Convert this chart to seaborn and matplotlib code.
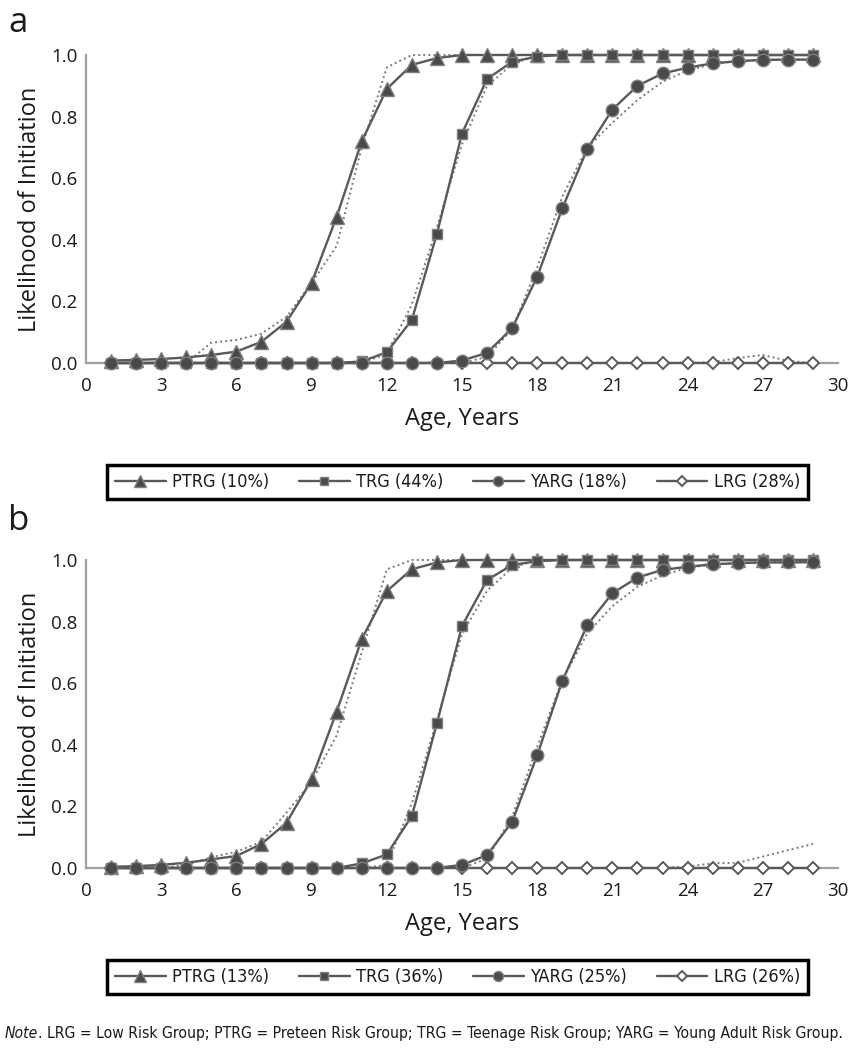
import matplotlib
matplotlib.use("Agg")
import matplotlib.pyplot as plt
from matplotlib.font_manager import FontProperties
import seaborn as sns
import numpy as np

# ---------------- data ----------------
ages = list(range(1, 30))

# Panel a (modeled, solid)
ptrg_a = [0.008, 0.010, 0.013, 0.018, 0.026, 0.037, 0.069, 0.134, 0.26, 0.475, 0.72, 0.89, 0.968, 0.99] + [1.0] * 15
trg_a = [0.0] * 10 + [0.005, 0.035, 0.14, 0.42, 0.745, 0.922, 0.978, 0.995] + [1.0] * 11
yarg_a = [0.0] * 14 + [0.008, 0.033, 0.113, 0.28, 0.502, 0.695, 0.823, 0.90, 0.94, 0.959, 0.973, 0.98, 0.984, 0.985, 0.985]
lrg_a = [0.0] * 29
# Panel a (observed, dotted)
ptrg_a_obs = [0.0, 0.0, 0.0, 0.0, 0.066, 0.075, 0.095, 0.15, 0.26, 0.38, 0.70, 0.96] + [1.0] * 17
trg_a_obs = [0.0] * 11 + [0.03, 0.19, 0.44, 0.71, 0.90, 0.97] + [1.0] * 12
yarg_a_obs = [0.0] * 15 + [0.02, 0.11, 0.31, 0.54, 0.70, 0.78, 0.854, 0.913, 0.95, 0.97, 0.98, 0.985, 0.985, 0.985]
lrg_a_obs = [0.0] * 24 + [0.003, 0.016, 0.026, 0.007, 0.0]

# Panel b (modeled, solid)
ptrg_b = [0.004, 0.006, 0.010, 0.017, 0.028, 0.039, 0.078, 0.147, 0.288, 0.508, 0.743, 0.899, 0.97, 0.992] + [1.0] * 15
trg_b = [0.0] * 10 + [0.015, 0.044, 0.169, 0.47, 0.786, 0.935, 0.984, 0.996] + [1.0] * 11
yarg_b = [0.0] * 14 + [0.01, 0.042, 0.15, 0.366, 0.607, 0.789, 0.892, 0.943, 0.968, 0.978, 0.986, 0.99, 0.992, 0.992, 0.993]
lrg_b = [0.0] * 29
# Panel b (observed, dotted)
ptrg_b_obs = [0.0, 0.0, 0.0, 0.01, 0.035, 0.053, 0.085, 0.18, 0.28, 0.43, 0.70, 0.97] + [1.0] * 17
trg_b_obs = [0.0] * 11 + [0.01, 0.21, 0.48, 0.76, 0.90, 0.975] + [1.0] * 12
yarg_b_obs = [0.0] * 15 + [0.03, 0.167, 0.394, 0.61, 0.762, 0.85, 0.913, 0.95, 0.975, 0.985, 0.99, 0.993, 0.993, 0.993]
lrg_b_obs = [0.0] * 23 + [0.005, 0.015, 0.017, 0.037, 0.058, 0.078]

labels_a = ["PTRG (10%)", "TRG (44%)", "YARG (18%)", "LRG (28%)"]
labels_b = ["PTRG (13%)", "TRG (36%)", "YARG (25%)", "LRG (26%)"]
panel_letters = ["a", "b"]
x_ticks = [0, 3, 6, 9, 12, 15, 18, 21, 24, 27, 30]
y_ticks = [0.0, 0.2, 0.4, 0.6, 0.8, 1.0]
x_label = "Age, Years"
y_label = "Likelihood of Initiation"
note_text = "LRG = Low Risk Group; PTRG = Preteen Risk Group; TRG = Teenage Risk Group; YARG = Young Adult Risk Group."

# ---------------- style ----------------
sns.set_style("white")
plt.rcParams["font.family"] = ["Open Sans", "DejaVu Sans"]

def narrow(size, style="normal"):
    return FontProperties(family="DejaVu Sans", stretch="condensed", size=size, style=style)

LINE = "#595959"
FILL = "#4a4a4a"
EDGE = "#7f7f7f"
DOT = "#7a7a7a"

fig = plt.figure(figsize=(8.48, 10.5), dpi=100)
W, H = 848, 1050

def axes_px(left, top, right, bottom):
    return fig.add_axes([left / W, 1 - bottom / H, (right - left) / W, (bottom - top) / H])

ax_a = axes_px(86, 55, 838, 363)
ax_b = axes_px(86, 560, 838, 868)

series_style = [
    dict(marker="^", markersize=10, markerfacecolor=FILL, markeredgecolor=EDGE, markeredgewidth=1.0),
    dict(marker="s", markersize=6.5, markerfacecolor=FILL, markeredgecolor=EDGE, markeredgewidth=1.0),
    dict(marker="o", markersize=9, markerfacecolor=FILL, markeredgecolor=EDGE, markeredgewidth=1.0),
    dict(marker="D", markersize=6.5, markerfacecolor="white", markeredgecolor=LINE, markeredgewidth=1.4),
]

def draw_panel(ax, model, obs, labels, legend_top):
    for vals in obs:
        sns.lineplot(x=ages, y=vals, ax=ax, color=DOT, linestyle=(0, (1, 1.6)), linewidth=1.4,
                     legend=False, label="_nolegend_", clip_on=False, zorder=2)
    order = [3, 0, 1, 2]
    for i in order:
        sns.lineplot(x=ages, y=model[i], ax=ax, color=LINE, linewidth=1.7, legend=False,
                     label=labels[i], clip_on=False, zorder=3 + order.index(i), **series_style[i])
    ax.set_xlim(0, 30)
    ax.set_ylim(0, 1.0)
    ax.set_xticks(x_ticks)
    ax.set_yticks(y_ticks)
    ax.set_yticklabels([f"{v:.1f}" for v in y_ticks])
    ax.tick_params(axis="both", length=0, labelsize=13.5, colors="#1a1a1a")
    ax.tick_params(axis="x", pad=10)
    ax.tick_params(axis="y", pad=6)
    for s in ["top", "right"]:
        ax.spines[s].set_visible(False)
    for s in ["left", "bottom"]:
        ax.spines[s].set_color("#a0a0a0")
        ax.spines[s].set_linewidth(1.6)
    ax.set_xlabel(x_label, fontsize=17, labelpad=9, color="#1a1a1a")
    ax.set_ylabel(y_label, fontsize=17, labelpad=7, color="#1a1a1a")
    ax.grid(False)

    handles, labs = ax.get_legend_handles_labels()
    hmap = dict(zip(labs, handles))
    hs = [hmap[l] for l in labels]
    leg = fig.legend(hs, labels, loc="center",
                     bbox_to_anchor=(107 / W, 1 - (legend_top + 30) / H, 701 / W, 30 / H),
                     mode="expand", ncol=4, borderaxespad=0, frameon=True, fancybox=False,
                     edgecolor="black", framealpha=1, handlelength=2.8, handletextpad=0.35,
                     borderpad=0.45, markerscale=0.8, prop=narrow(13))
    leg.get_frame().set_linewidth(2.5)
    for t in leg.get_texts():
        t.set_color("#1a1a1a")

draw_panel(ax_a, [ptrg_a, trg_a, yarg_a, lrg_a], [ptrg_a_obs, trg_a_obs, yarg_a_obs, lrg_a_obs],
           labels_a, 467)
draw_panel(ax_b, [ptrg_b, trg_b, yarg_b, lrg_b], [ptrg_b_obs, trg_b_obs, yarg_b_obs, lrg_b_obs],
           labels_b, 962)

fig.text(8 / W, 1 - 32 / H, panel_letters[0], fontsize=25, color="#1a1a1a", va="baseline")
fig.text(8 / W, 1 - 530 / H, panel_letters[1], fontsize=25, color="#1a1a1a", va="baseline")

# note line, sized to fit the same width as in the reference (x 5..845 px)
size = 12.5
while True:
    t1 = fig.text(5 / W, 1 - 1038 / H, "Note", fontproperties=narrow(size, "italic"),
                  color="#1a1a1a", va="baseline")
    fig.canvas.draw()
    bb = t1.get_window_extent()
    t2 = fig.text(bb.x1 / W, 1 - 1038 / H, ". " + note_text, fontproperties=narrow(size),
                  color="#1a1a1a", va="baseline")
    fig.canvas.draw()
    if t2.get_window_extent().x1 <= 845 or size < 8:
        break
    t1.remove()
    t2.remove()
    size -= 0.25

fig.savefig("out.png", dpi=100)
